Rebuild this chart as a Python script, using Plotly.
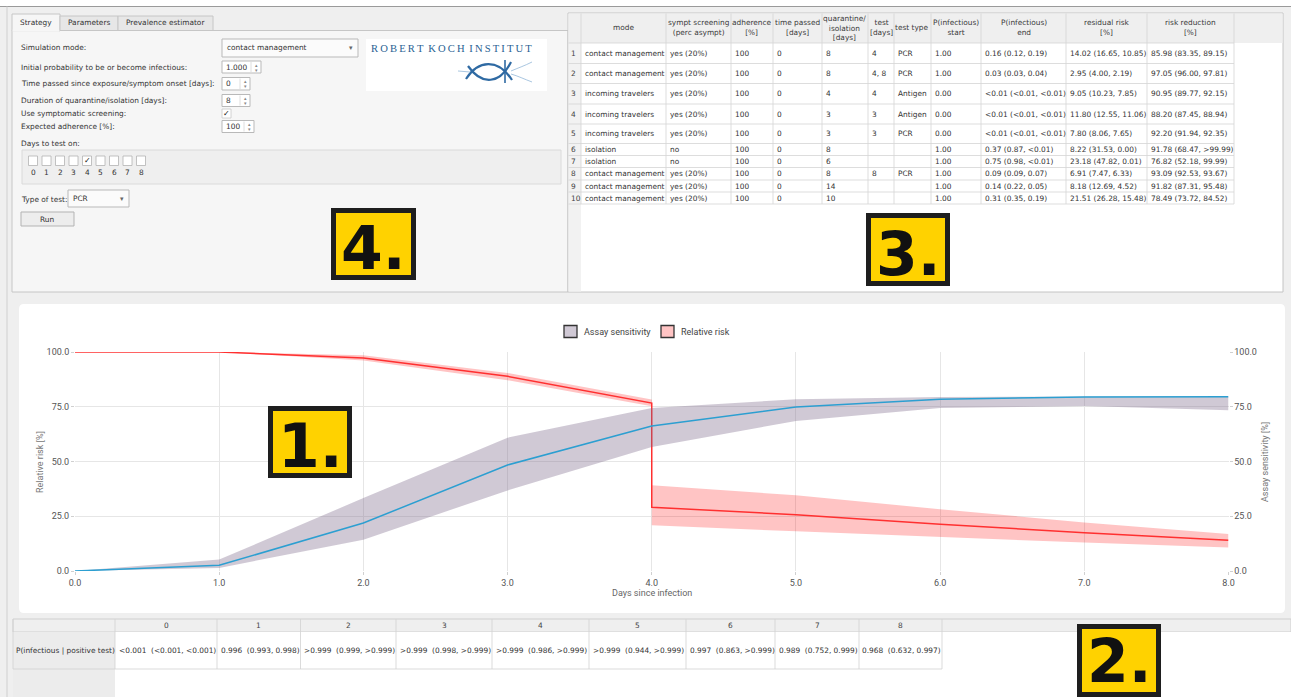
import plotly.graph_objects as go

W, H = 1291, 697

# ---------------- chart data ----------------
days = [0, 1, 2, 3, 4, 5, 6, 7, 8]
sens_mean = [0.0, 2.6, 21.9, 48.4, 66.2, 74.9, 78.4, 79.5, 79.6]
sens_low = [0.0, 1.4, 14.3, 36.8, 56.6, 68.5, 74.4, 75.3, 73.4]
sens_high = [0.0, 5.2, 33.3, 60.9, 74.4, 78.4, 79.5, 79.7, 79.7]

risk_days = [0, 1, 2, 3, 4, 4, 5, 6, 7, 8]
risk_mean = [100.0, 100.0, 97.3, 88.9, 76.7, 29.1, 25.7, 21.3, 17.5, 14.0]
risk_low = [100.0, 100.0, 96.1, 87.1, 75.2, 20.9, 18.1, 15.5, 13.0, 10.7]
risk_high = [100.0, 100.0, 98.5, 90.4, 78.3, 39.1, 34.6, 28.2, 22.2, 16.9]

legend_names = ["Assay sensitivity", "Relative risk"]
x_title = "Days since infection"
y_title = "Relative risk [%]"
y2_title = "Assay sensitivity [%]"

# ---------------- results table (3.) ----------------
table_columns = ["mode", "sympt screening<br>(perc asympt)", "adherence<br>[%]", "time passed<br>[days]",
                 "quarantine/<br>isolation<br>[days]", "test<br>[days]", "test type",
                 "P(infectious)<br>start", "P(infectious)<br>end", "residual risk<br>[%]", "risk reduction<br>[%]"]
table_rows = [
    ["contact management", "yes (20%)", "100", "0", "8", "4", "PCR", "1.00", "0.16 (0.12, 0.19)", "14.02 (16.65, 10.85)", "85.98 (83.35, 89.15)"],
    ["contact management", "yes (20%)", "100", "0", "8", "4, 8", "PCR", "1.00", "0.03 (0.03, 0.04)", "2.95 (4.00, 2.19)", "97.05 (96.00, 97.81)"],
    ["incoming travelers", "yes (20%)", "100", "0", "4", "4", "Antigen", "0.00", "&lt;0.01 (&lt;0.01, &lt;0.01)", "9.05 (10.23, 7.85)", "90.95 (89.77, 92.15)"],
    ["incoming travelers", "yes (20%)", "100", "0", "3", "3", "Antigen", "0.00", "&lt;0.01 (&lt;0.01, &lt;0.01)", "11.80 (12.55, 11.06)", "88.20 (87.45, 88.94)"],
    ["incoming travelers", "yes (20%)", "100", "0", "3", "3", "PCR", "0.00", "&lt;0.01 (&lt;0.01, &lt;0.01)", "7.80 (8.06, 7.65)", "92.20 (91.94, 92.35)"],
    ["isolation", "no", "100", "0", "8", "", "", "1.00", "0.37 (0.87, &lt;0.01)", "8.22 (31.53, 0.00)", "91.78 (68.47, &gt;99.99)"],
    ["isolation", "no", "100", "0", "6", "", "", "1.00", "0.75 (0.98, &lt;0.01)", "23.18 (47.82, 0.01)", "76.82 (52.18, 99.99)"],
    ["contact management", "yes (20%)", "100", "0", "8", "8", "PCR", "1.00", "0.09 (0.09, 0.07)", "6.91 (7.47, 6.33)", "93.09 (92.53, 93.67)"],
    ["contact management", "yes (20%)", "100", "0", "14", "", "", "1.00", "0.14 (0.22, 0.05)", "8.18 (12.69, 4.52)", "91.82 (87.31, 95.48)"],
    ["contact management", "yes (20%)", "100", "0", "10", "", "", "1.00", "0.31 (0.35, 0.19)", "21.51 (26.28, 15.48)", "78.49 (73.72, 84.52)"],
]

# ---------------- PPV table (2.) ----------------
ppv_days = ["0", "1", "2", "3", "4", "5", "6", "7", "8"]
ppv_row_label = "P(infectious | positive test)"
ppv_values = ["&lt;0.001\u00a0\u00a0(&lt;0.001, &lt;0.001)", "0.996\u00a0\u00a0(0.993, 0.998)",
              "&gt;0.999\u00a0\u00a0(0.999, &gt;0.999)", "&gt;0.999\u00a0\u00a0(0.998, &gt;0.999)",
              "&gt;0.999\u00a0\u00a0(0.986, &gt;0.999)", "&gt;0.999\u00a0\u00a0(0.944, &gt;0.999)",
              "0.997\u00a0\u00a0(0.863, &gt;0.999)", "0.989\u00a0\u00a0(0.752, 0.999)", "0.968\u00a0\u00a0(0.632, 0.997)"]

# ---------------- strategy form (4.) ----------------
tabs = ["Strategy", "Parameters", "Prevalence estimator"]
form_labels = ["Simulation mode:", "Initial probability to be or become infectious:",
               "Time passed since exposure/symptom onset [days]:", "Duration of quarantine/isolation [days]:",
               "Use symptomatic screening:", "Expected adherence [%]:"]
sim_mode = "contact management"
init_prob = "1.000"
time_passed = "0"
duration = "8"
adherence = "100"
test_days = ["0", "1", "2", "3", "4", "5", "6", "7", "8"]
checked_days = ["4"]
test_type = "PCR"
logo_text = "ROBERT KOCH INSTITUT"
badges = ["1.", "2.", "3.", "4."]

# ---------------- helpers (pixel -> paper) ----------------
GUI = "DejaVu Sans"
CH = "Roboto"
shapes, annots = [], []


def X(px):
    return px / W


def Y(py):
    return 1 - py / H


def rect(x0, y0, x1, y1, fill, line=None, lw=1.0, layer="above"):
    shapes.append(dict(type="rect", xref="paper", yref="paper", x0=X(x0), x1=X(x1), y0=Y(y1), y1=Y(y0),
                       fillcolor=fill, line=dict(color=line if line else "rgba(0,0,0,0)", width=lw if line else 0),
                       layer=layer))


def seg(x0, y0, x1, y1, color, lw=1.0):
    shapes.append(dict(type="line", xref="paper", yref="paper", x0=X(x0), x1=X(x1), y0=Y(y0), y1=Y(y1),
                       line=dict(color=color, width=lw), layer="above"))


def path(pts_cmds, color, lw=1.0, fill=None, layer="above"):
    shapes.append(dict(type="path", xref="paper", yref="paper", path=pts_cmds,
                       line=dict(color=color, width=lw), fillcolor=fill if fill else "rgba(0,0,0,0)", layer=layer))


def P(x, y):
    return f"{X(x):.6f},{Y(y):.6f}"


def text(x, y, s, size=7.4, color="#333333", xa="left", ya="middle", font=GUI, angle=0, bold=False):
    annots.append(dict(xref="paper", yref="paper", x=X(x), y=Y(y), text=s, showarrow=False,
                       xanchor=xa, yanchor=ya, textangle=angle, borderpad=0,
                       font=dict(family=font, size=size, color=color, weight=700 if bold else 400)))


# ---------------- window background ----------------
rect(0, 0, W, 6, "#ffffff", layer="below")
seg(0, 6.5, W, 6.5, "#9a9a9a", 1)
seg(7, 6.5, 7, H, "#cfcfcf", 1)

# chart card (rounded)
cx0, cy0, cx1, cy1, r = 19, 304, 1285, 613, 5
card = (f"M{P(cx0 + r, cy0)} L{P(cx1 - r, cy0)} Q{P(cx1, cy0)} {P(cx1, cy0 + r)} L{P(cx1, cy1 - r)} "
        f"Q{P(cx1, cy1)} {P(cx1 - r, cy1)} L{P(cx0 + r, cy1)} Q{P(cx0, cy1)} {P(cx0, cy1 - r)} "
        f"L{P(cx0, cy0 + r)} Q{P(cx0, cy0)} {P(cx0 + r, cy0)} Z")
path(card, "rgba(0,0,0,0)", 0, fill="#ffffff", layer="below")

# ---------------- left form panel ----------------
rect(12, 30.5, 568, 292, "#f6f6f6", "#c6c6c6")
tab_edges = [12, 60, 118, 213]
for i, t in enumerate(tabs):
    if i == 0:
        rect(tab_edges[i], 14, tab_edges[i + 1], 31, "#f6f6f6", "#c6c6c6")
        seg(tab_edges[i] + 0.5, 30.8, tab_edges[i + 1] - 0.5, 30.8, "#f6f6f6", 2)
        text((tab_edges[i] + tab_edges[i + 1]) / 2, 22.5, t, xa="center")
    else:
        rect(tab_edges[i], 16, tab_edges[i + 1], 30.5, "#e7e7e7", "#c6c6c6")
        text((tab_edges[i] + tab_edges[i + 1]) / 2, 23, t, xa="center")

label_y = [48, 67, 84, 100.5, 113.5, 126.5]
for lbl, yy in zip(form_labels, label_y):
    text(20, yy, lbl)

# combo box
rect(222, 39, 358, 57, "#fbfbfb", "#b9b9b9")
text(226, 48, sim_mode)
text(351, 48, "\u25be", size=7, color="#666666", xa="center")


def spin(x0, y0, x1, y1, val):
    rect(x0, y0, x1, y1, "#ffffff", "#b9b9b9")
    text(x0 + 3, (y0 + y1) / 2, val)
    seg(x1 - 10, y0 + 1, x1 - 10, y1 - 1, "#d6d6d6", 0.8)
    text(x1 - 5, (y0 + y1) / 2 - 2.4, "\u25b4", size=5, color="#888888", xa="center")
    text(x1 - 5, (y0 + y1) / 2 + 2.6, "\u25be", size=5, color="#888888", xa="center")


spin(222, 61, 261, 73, init_prob)
spin(222, 77.5, 250, 90, time_passed)
spin(222, 94.5, 250, 106.5, duration)
rect(222, 109, 231, 118, "#ffffff", "#c9c9c9", 0.8)
text(226.5, 113.5, "\u2713", size=8, color="#111111", xa="center")
spin(222, 120.5, 254, 132.5, adherence)

text(20, 144, "Days to test on:")
rect(22, 150, 561, 184, "#efefef", "#dadada")
for i, d in enumerate(test_days):
    cxp = 33 + 13.5 * i
    rect(cxp - 4.5, 156, cxp + 4.5, 165.5, "#ffffff", "#b3b3b3", 0.8)
    if d in checked_days:
        text(cxp, 160.8, "\u2713", size=8, color="#111111", xa="center")
    text(cxp, 173, d, xa="center")

text(20, 199, "Type of test:")
rect(68, 190, 129, 207, "#fbfbfb", "#b9b9b9")
text(72, 198.5, test_type)
text(122, 198.5, "\u25be", size=7, color="#666666", xa="center")

rect(21, 212, 74, 226, "#ededed", "#b3b3b3")
text(47.5, 219, "Run", xa="center")

# logo
rect(366, 39, 547, 91, "#ffffff")
logo_spaced = "\u00a0\u2009".join("\u2009".join(w) for w in logo_text.split(" "))
text(452, 48.5, logo_spaced, size=10.6, color="#2a5f93", xa="center", font="Liberation Serif")
path(f"M{P(466, 79)} C{P(478, 60)} {P(498, 58)} {P(512, 80)}", "#2f6aa3", 2.2)
path(f"M{P(468, 66)} C{P(482, 86)} {P(500, 84)} {P(511, 62)}", "#2f6aa3", 2.2)
seg(505, 60, 505, 83, "#2f6aa3", 1.6)
path(f"M{P(458, 71)} L{P(470, 72)}", "#9fc0dd", 0.9)
path(f"M{P(511, 71)} C{P(518, 68)} {P(524, 66)} {P(532, 62)}", "#9fc0dd", 0.9)
path(f"M{P(511, 74)} C{P(518, 76)} {P(524, 79)} {P(532, 82)}", "#9fc0dd", 0.9)

# ---------------- results table ----------------
col_edges = [568, 581, 666, 731, 773, 822, 868, 894, 931, 981, 1066, 1147, 1234]
row_edges = [13, 43, 63.5, 83.5, 104, 124, 143.5, 155.5, 167.5, 180, 192, 204]
rect(568, 13, 1283, 292, "#ffffff", "#c4c4c4")
rect(568.5, 13.5, 1282.5, 43, "#efefef")
rect(568.5, 43, 581, 291.5, "#f2f2f2")
for xe in col_edges[1:]:
    seg(xe, 13.5, xe, row_edges[-1], "#d4d4d4", 0.8)
for ye in row_edges[1:]:
    seg(568.5, ye, col_edges[-1], ye, "#d4d4d4", 0.8)
for j, h in enumerate(table_columns):
    text((col_edges[j + 1] + col_edges[j + 2]) / 2, 28, h, color="#3a3a3a", xa="center")
for i, row in enumerate(table_rows):
    yc = (row_edges[i + 1] + row_edges[i + 2]) / 2
    text(570, yc, str(i + 1), color="#444444")
    for j, v in enumerate(row):
        if v:
            text(col_edges[j + 1] + 3, yc, v)

# ---------------- PPV table ----------------
b_edges = [13, 115, 217, 300.5, 396, 492, 589, 686, 775, 859, 942]
rect(13, 619, W, 632, "#efefef", "#cfcfcf")
rect(13, 632, 115, H, "#ececec")
rect(115, 632, W, H, "#ffffff")
for xe in b_edges:
    seg(xe, 619, xe, 669, "#d2d2d2", 0.8)
seg(13, 669, b_edges[-1], 669, "#d2d2d2", 0.8)
for j, d in enumerate(ppv_days):
    text((b_edges[j + 1] + b_edges[j + 2]) / 2, 625.5, d, color="#444444", xa="center")
text(15, 650.5, ppv_row_label, color="#333333")
for j, v in enumerate(ppv_values):
    text(b_edges[j + 1] + 2.5, 650.5, v)

# ---------------- legend (manual) ----------------
rect(564, 325.5, 577, 337.5, "rgba(120,100,135,0.35)", "#333333", 1.3)
text(583, 331.5, legend_names[0], size=9, color="#444444", font=CH)
rect(661, 325.5, 674, 337.5, "rgba(255,0,0,0.23)", "#333333", 1.3)
text(680, 331.5, legend_names[1], size=9, color="#444444", font=CH)

# axis titles
text(40, 462, y_title, size=9, color="#777777", xa="center", font=CH, angle=-90)
text(1265, 462, y2_title, size=9, color="#777777", xa="center", font=CH, angle=-90)
text(652, 592.5, x_title, size=9, color="#666666", xa="center", font=CH)

# ---------------- numbered badges ----------------
badge_boxes = {"1.": (268, 406, 352, 478), "2.": (1077, 624, 1161, 697),
               "3.": (866, 213, 950, 286), "4.": (331, 208, 416, 280)}
for b in badges:
    x0, y0, x1, y1 = badge_boxes[b]
    rect(x0, y0, x1, y1, "#1e1e1e")
    rect(x0 + 5, y0 + 5, x1 - 5, y1 - 5, "#ffd200")
    yc = min((y0 + y1) / 2 + 4, H - 36)
    text((x0 + x1) / 2, yc, b, size=60, color="#111111", xa="center", font="DejaVu Sans", bold=True)

# ---------------- traces ----------------
fig = go.Figure()
split = risk_days.index(4) + 1


def band(xs, lo, hi, color, yaxis):
    return go.Scatter(x=list(xs) + list(xs)[::-1], y=list(hi) + list(lo)[::-1], fill="toself",
                      fillcolor=color, line=dict(width=0), mode="lines", hoverinfo="skip",
                      showlegend=False, yaxis=yaxis)


fig.add_trace(band(days, sens_low, sens_high, "rgba(120,100,135,0.35)", "y2"))
fig.add_trace(band(risk_days[:split], risk_low[:split], risk_high[:split], "rgba(255,0,0,0.23)", "y"))
fig.add_trace(band(risk_days[split:], risk_low[split:], risk_high[split:], "rgba(255,0,0,0.23)", "y"))
fig.add_trace(go.Scatter(x=days, y=sens_mean, mode="lines", line=dict(color="#2c9fd1", width=1.5),
                         name=legend_names[0], showlegend=False, yaxis="y2"))
fig.add_trace(go.Scatter(x=risk_days, y=risk_mean, mode="lines", line=dict(color="#ff3030", width=1.5),
                         name=legend_names[1], showlegend=False, yaxis="y"))

axis_font = dict(family=CH, size=9, color="#555555")
fig.update_layout(
    width=W, height=H, margin=dict(l=0, r=0, t=0, b=0), autosize=False,
    paper_bgcolor="#efefef", plot_bgcolor="rgba(0,0,0,0)", showlegend=False,
    xaxis=dict(domain=[X(75), X(1228.5)], range=[0, 8], tickvals=days, tickformat=".1f",
               showgrid=True, gridcolor="#e6e6e6", zeroline=False, showline=False,
               ticks="outside", ticklen=3, tickcolor="#d0d0d0", tickfont=axis_font, automargin=False),
    yaxis=dict(domain=[Y(571), Y(352)], range=[0, 100], dtick=25, tickformat=".1f",
               showgrid=True, gridcolor="#e6e6e6", zeroline=False, showline=False,
               ticks="outside", ticklen=3, tickcolor="#d0d0d0", tickfont=axis_font, automargin=False),
    yaxis2=dict(overlaying="y", side="right", anchor="x", range=[0, 100], dtick=25, tickformat=".1f",
                showgrid=False, zeroline=False, showline=False,
                ticks="outside", ticklen=3, tickcolor="#d0d0d0", tickfont=axis_font, automargin=False),
    shapes=shapes, annotations=annots,
)

fig.write_html("out.html", config={"displayModeBar": False},
               post_script="document.body.style.margin='0';document.body.style.overflow='hidden';")
